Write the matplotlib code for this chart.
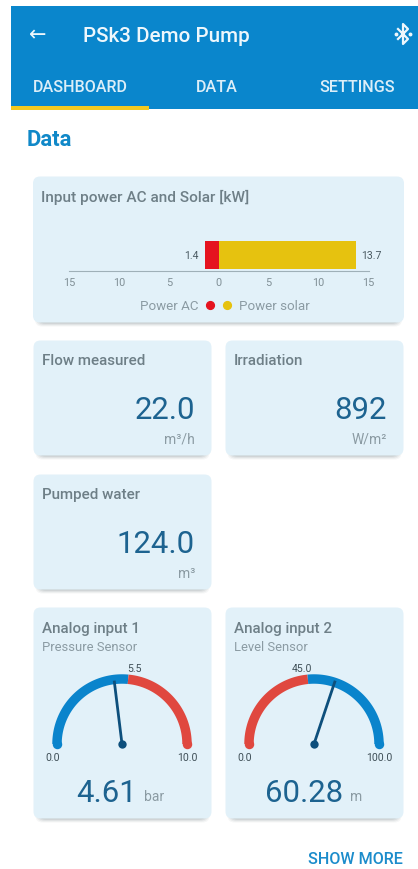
import numpy as np
import matplotlib
matplotlib.use('Agg')
import matplotlib.pyplot as plt
from matplotlib.patches import FancyBboxPatch, Rectangle

W, H = 418, 870

plt.rcParams['font.family'] = ['Roboto', 'DejaVu Sans']

# power card
power_ticks = [-15, -10, -5, 0, 5, 10, 15]
power_tick_labels = ['15', '10', '5', '0', '5', '10', '15']
power_ac = 1.4
power_solar = 13.7

# value cards
value_titles = ['Flow measured', 'Irradiation', 'Pumped water']
value_numbers = ['22.0', '892', '124.0']
value_units = ['m³/h', 'W/m²', 'm³']

# gauges
gauge_titles = ['Analog input 1', 'Analog input 2']
gauge_subtitles = ['Pressure Sensor', 'Level Sensor']
gauge_max = [10.0, 100.0]
gauge_values = [4.61, 60.28]
gauge_units = ['bar', 'm']
gauge_limit_labels = ['5.5', '45.0']
gauge_splits = [5.3, 47.0]
gauge_colors = [('#0a84cc', '#e0483f'), ('#e0483f', '#0a84cc')]
gauge_number_right = [104, 118]

BLUE = '#0a86cc'
CARD = '#e2f1f9'
TITLE = '#6e7f87'
SUB = '#8b9ba3'
NUM = '#1d6390'
DARK = '#0d4f7c'


def px_axes(fig, x0, y0, x1, y1):
    """Axes placed by pixel box, y counted from the top."""
    ax = fig.add_axes([x0 / W, 1 - y1 / H, (x1 - x0) / W, (y1 - y0) / H])
    ax.patch.set_alpha(0)
    return ax


def draw_card(ax, x0, y0, x1, y1):
    for grow, alpha in [(3.5, 0.05), (2.5, 0.07), (1.5, 0.09), (0.5, 0.12)]:
        ax.add_patch(FancyBboxPatch((x0 - grow + 6, y0 + 6), x1 - x0 - 12 + 2 * grow, y1 - y0 - 6 + grow,
                                    boxstyle='round,pad=0,rounding_size=7', fc='#4a5a62', ec='none', alpha=alpha))
    ax.add_patch(FancyBboxPatch((x0 + 0.5, y0 + 0.5), x1 - x0 - 1, y1 - y0 - 1,
                                boxstyle='round,pad=0,rounding_size=7', fc=CARD, ec='none'))


def draw_header(ax):
    ax.add_patch(Rectangle((11, 7), W - 11, 103, fc=BLUE, ec='none'))
    ax.add_patch(Rectangle((11, 107), 138, 3.5, fc='#f3c91f', ec='none'))
    ax.text(38, 35.5, '←', color='#eef7fc', fontsize=15, family='DejaVu Sans', ha='center', va='center')
    ax.text(83, 36.5, 'PSk3 Demo Pump', color='#eef7fc', fontsize=14.9, weight='medium', va='center')
    # bluetooth icon
    ax.plot([398, 408, 403, 403, 408, 398], [30, 40, 45, 25, 30, 40], color='#eef7fc', lw=1.6)
    ax.plot([396, 410], [35, 35], ls='none', marker='o', ms=1.8, color='#eef7fc')
    for x, label in [(80, 'DASHBOARD'), (217, 'DATA'), (357, 'SETTINGS')]:
        ax.text(x, 88, label, color='#dceef8', fontsize=11.6, weight='medium', ha='center', va='center')
    ax.text(27, 139.5, 'Data', color='#1088c8', fontsize=15.8, weight='bold', va='center')
    ax.text(403, 860, 'SHOW MORE', color='#1b8ccb', fontsize=11.6, weight='medium', ha='right', va='center')


def draw_power(fig, ax):
    draw_card(ax, 32.5, 177, 404.5, 324)
    ax.text(41, 197, 'Input power AC and Solar [kW]', color=TITLE, fontsize=11.1, weight='medium', va='center')

    bar = px_axes(fig, 69, 236, 368.5, 272)
    bar.set_xlim(-15, 15)
    bar.set_ylim(0, 36)
    bar.barh(16, -power_ac, left=0, height=28, color='#e5131f')
    bar.barh(16, power_solar, left=0, height=28, color='#e6c20f')
    bar.text(-power_ac - 0.6, 16, f'{power_ac}', ha='right', va='center', fontsize=7.6, color='#4a5a62')
    bar.text(power_solar + 0.55, 16, f'{power_solar}', ha='left', va='center', fontsize=7.6, color='#4a5a62')
    bar.set_xticks(power_ticks)
    bar.set_xticklabels(power_tick_labels, fontsize=7.8, color='#808f96')
    bar.tick_params(axis='x', length=0, pad=4)
    bar.set_yticks([])
    for side in ['top', 'left', 'right']:
        bar.spines[side].set_visible(False)
    bar.spines['bottom'].set_color('#9fb0b8')
    bar.spines['bottom'].set_linewidth(0.8)

    ax.text(198.5, 307, 'Power AC', color='#8b9ba3', fontsize=9.6, ha='right', va='center')
    ax.plot([210], [306], marker='o', ms=5.6, color='#e5131f', ls='none')
    ax.plot([227], [306], marker='o', ms=5.6, color='#e6c20f', ls='none')
    ax.text(239, 307, 'Power solar', color='#8b9ba3', fontsize=9.6, va='center')


def draw_value_card(ax, x0, y0, title, number, unit):
    draw_card(ax, x0, y0, x0 + 179, y0 + 116)
    ax.text(x0 + 8.5, y0 + 20, title, color=TITLE, fontsize=10.9, weight='medium', va='center')
    ax.text(x0 + 162, y0 + 70, number, color=NUM, fontsize=22.4, ha='right', va='center')
    ax.text(x0 + 162, y0 + 99, unit, color=SUB, fontsize=10, ha='right', va='center')


def draw_gauge(fig, ax, x0, idx):
    y0 = 608
    draw_card(ax, x0, y0, x0 + 179, y0 + 212)
    ax.text(x0 + 8.5, y0 + 21, gauge_titles[idx], color=TITLE, fontsize=10.9, weight='medium', va='center')
    ax.text(x0 + 8.5, y0 + 40, gauge_subtitles[idx], color=SUB, fontsize=9.4, va='center')

    cx, cy, radius = x0 + 89, 745, 65
    g = px_axes(fig, cx - 80, cy - 80, cx + 80, cy + 80)
    g.set_xlim(-80, 80)
    g.set_ylim(-80, 80)
    g.axis('off')

    vmax = gauge_max[idx]
    to_angle = lambda v: np.pi * (1 - v / vmax)
    first, second = gauge_colors[idx]
    for lo, hi, color in [(0, gauge_splits[idx], first), (gauge_splits[idx], vmax, second)]:
        t = np.linspace(to_angle(lo), to_angle(hi), 80)
        g.plot(radius * np.cos(t), radius * np.sin(t), color=color, lw=6.8, solid_capstyle='butt')
    for end, color in [(0, first), (vmax, second)]:
        g.plot(radius * np.cos(to_angle(end)), radius * np.sin(to_angle(end)), marker='o', ms=6.8, color=color, mew=0)

    needle = to_angle(gauge_values[idx])
    g.plot([0, 62 / np.sin(needle) * np.cos(needle)], [0, 62], color=DARK, lw=2)
    g.plot([0], [0], marker='o', ms=6, color=DARK, mew=0)

    limit = to_angle(float(gauge_limit_labels[idx]))
    ax.text(cx + 80 * np.cos(limit), 669, gauge_limit_labels[idx], fontsize=7.6, color='#3f4f57', ha='center', va='center')
    ax.text(cx - 69, 758, '0.0', fontsize=7.6, color='#3f4f57', ha='center', va='center')
    ax.text(cx + 65, 758, f'{vmax:.1f}', fontsize=7.6, color='#3f4f57', ha='center', va='center')

    right = x0 + gauge_number_right[idx]
    ax.text(right, 794, f'{gauge_values[idx]:.2f}', color=NUM, fontsize=22.4, ha='right', va='center')
    ax.text(right + 7, 797, gauge_units[idx], color=SUB, fontsize=10, va='center')


def main():
    fig = plt.figure(figsize=(W / 100, H / 100), dpi=100, facecolor='white')
    ax = fig.add_axes([0, 0, 1, 1])
    ax.set_xlim(0, W)
    ax.set_ylim(H, 0)
    ax.axis('off')

    draw_header(ax)
    draw_power(fig, ax)
    for (x0, y0), title, number, unit in zip([(33, 341), (225, 341), (33, 475)], value_titles, value_numbers, value_units):
        draw_value_card(ax, x0, y0, title, number, unit)
    draw_gauge(fig, ax, 33, 0)
    draw_gauge(fig, ax, 225, 1)

    fig.savefig('out.png', dpi=100)


if __name__ == "__main__":
    main()
